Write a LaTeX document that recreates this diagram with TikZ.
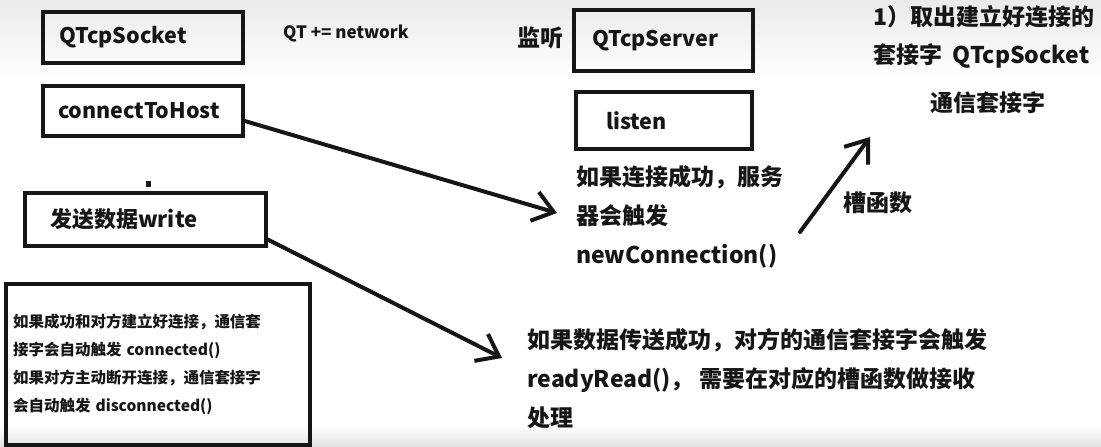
\documentclass[tikz,border=0pt]{standalone}
\usepackage{fontspec}
\setmainfont{Noto Sans CJK SC}
\usetikzlibrary{arrows.meta,positioning}
\definecolor{inkblack}{RGB}{22,22,22}
\definecolor{topgray}{RGB}{234,234,234}
\definecolor{footgray}{RGB}{226,226,226}

\begin{document}
\begin{tikzpicture}[x=1pt,y=-1pt,
 every node/.style={font=\bfseries\fontsize{23}{27}\selectfont,text=inkblack,inner sep=0pt},
 pbox/.style={draw=inkblack,line width=3.5pt,align=left,anchor=center,font=\bfseries\fontsize{21.5}{26}\selectfont},
 plain/.style={anchor=west,align=left},
 small/.style={font=\bfseries\fontsize{17}{20}\selectfont},
 barb/.style={-{Straight Barb[length=20pt,width=30pt]},line width=4pt,draw=inkblack,line cap=round}
]
\useasboundingbox (0,0) rectangle (1101,447);
% screen background
\shade[top color=topgray,bottom color=white] (0,0) rectangle (1101,80);
\shade[top color=white,bottom color=footgray] (0,425) rectangle (1101,447);

% client side
\node[pbox,text width=168pt,inner xsep=16pt,minimum height=51pt] (sock) at (143,37.5) {QTcpSocket};
\node[plain,small] (net) at (283,33) {QT += network};
\node[pbox,text width=170pt,inner xsep=15pt,minimum height=50pt] (conn) at (143,111) {connectToHost};
\fill[inkblack] (146,181) rectangle (151,187);
\node[pbox,text width=191pt,inner xsep=25pt,minimum height=53pt,font=\bfseries\fontsize{22}{26}\selectfont] (write) at (145.5,219.5) {发送数据write};
\node[pbox,text width=290pt,inner xsep=7pt,minimum height=161pt,
 font=\bfseries\fontsize{15.5}{28}\selectfont] (note) at (158,364.5)
 {如果成功和对方建立好连接，通信套\\接字会自动触发 connected()\\如果对方主动断开连接，通信套接字\\会自动触发 disconnected()};

% server side
\node[plain] (lsn) at (517,38) {监听};
\node[pbox,text width=143pt,inner xsep=18pt,minimum height=61pt] (server) at (663.5,40.5) {QTcpServer};
\node[pbox,text width=116pt,inner xsep=30pt,minimum height=57pt] (listen) at (664,120.5) {listen};
\node[plain,font=\bfseries\fontsize{23}{39}\selectfont] (newconn) at (576,217)
 {如果连接成功，服务\\器会触发\\newConnection()};
\node[plain] (slot) at (843,203) {槽函数};
\node[plain,font=\bfseries\fontsize{23}{38}\selectfont] (take) at (873,37)
 {1）取出建立好连接的\\套接字\ \ QTcpSocket};
\node[plain] (comm) at (930,103) {通信套接字};
\node[plain,font=\bfseries\fontsize{23}{39}\selectfont] (ready) at (527,379)
 {如果数据传送成功，对方的通信套接字会触发\\readyRead()， 需要在对应的槽函数做接收\\处理};

% connectors
\coordinate (hit) at (557,213);
\coordinate (recv) at (502,358);
\coordinate (slotfoot) at (800,232);
\coordinate (slottip) at (870,137);
\draw[barb] ([yshift=-10pt]conn.east) -- (hit);
\draw[barb] ([yshift=-20pt]write.east) -- (recv);
\draw[barb] (slotfoot) -- (slottip);
\end{tikzpicture}
\end{document}
